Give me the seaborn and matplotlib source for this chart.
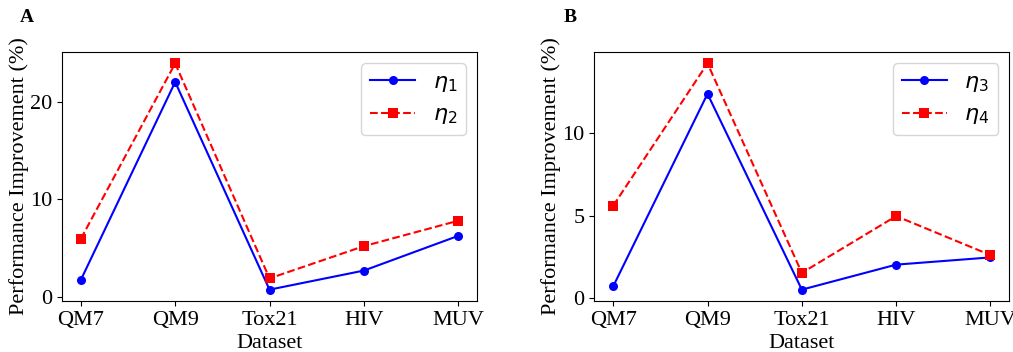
import matplotlib
matplotlib.use('Agg')
import matplotlib.pyplot as plt
import seaborn as sns
import pandas as pd

datasets = ['QM7', 'QM9', 'Tox21', 'HIV', 'MUV']
eta1 = [1.75, 22.0, 0.75, 2.7, 6.25]
eta2 = [5.95, 23.9, 1.9, 5.2, 7.8]
eta3 = [0.7, 12.4, 0.5, 2.02, 2.46]
eta4 = [5.6, 14.25, 1.52, 4.97, 2.6]

plt.rcParams['font.family'] = ['Liberation Serif', 'DejaVu Serif']
plt.rcParams['mathtext.fontset'] = 'dejavusans'

fig = plt.figure(figsize=(10.13, 3.52), dpi=100)
ax1 = fig.add_axes([0.0612, 0.145, 0.4097, 0.707])
ax2 = fig.add_axes([0.5867, 0.145, 0.4097, 0.707])

panels = [
    (ax1, eta1, eta2, r'$\eta_1$', r'$\eta_2$', [0, 10, 20], 'A', 0.02),
    (ax2, eta3, eta4, r'$\eta_3$', r'$\eta_4$', [0, 5, 10], 'B', 0.556),
]

for ax, a, b, la, lb, yt, tag, tx in panels:
    df = pd.DataFrame({'Dataset': datasets, 'a': a, 'b': b})
    sns.lineplot(data=df, x='Dataset', y='a', ax=ax, color='blue', marker='o',
                 markersize=6.5, markeredgewidth=0, linestyle='-', label=la, sort=False)
    sns.lineplot(data=df, x='Dataset', y='b', ax=ax, color='red', marker='s',
                 markersize=6.5, markeredgewidth=0, linestyle='--', label=lb, sort=False)
    ax.lines[1].set_linestyle('--')
    ax.set_yticks(yt)
    ax.set_xlabel('Dataset', fontsize=16, labelpad=3)
    ax.set_ylabel('Performance Improvement (%)', fontsize=16, labelpad=1)
    ax.tick_params(labelsize=16)
    leg = ax.legend(fontsize=16, loc='upper right', handlelength=2.0)
    fig.text(tx, 0.95, tag, fontsize=14, fontweight='bold', va='center')

fig.savefig('out.png', dpi=100)
